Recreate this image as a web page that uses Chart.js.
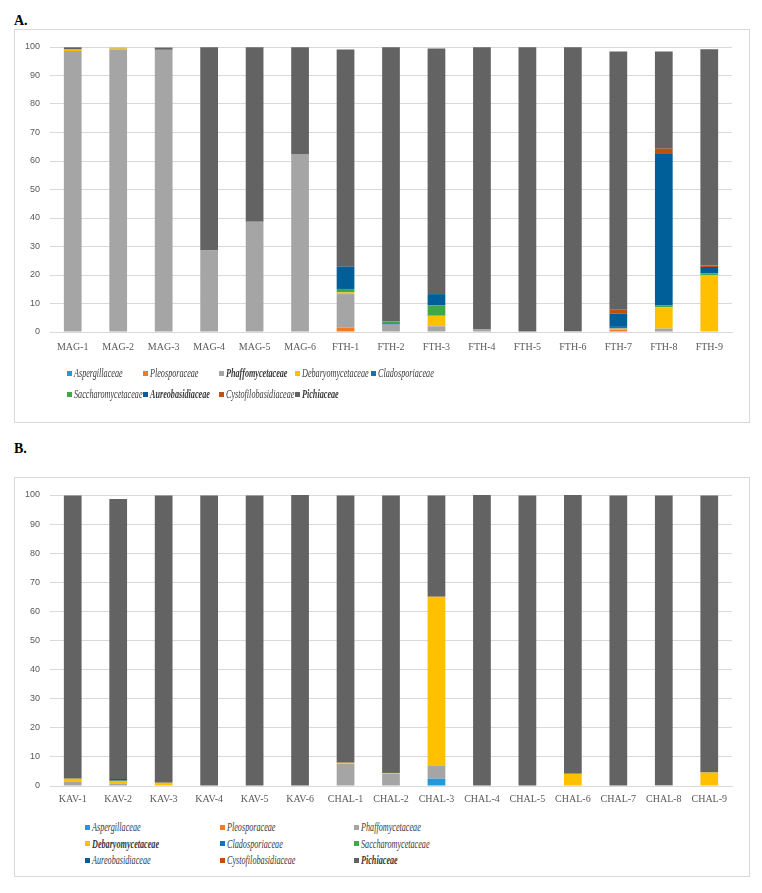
<!DOCTYPE html>
<html>
<head>
<meta charset="utf-8">
<script src="https://cdn.jsdelivr.net/npm/chart.js@4"></script>
<style>
  body { margin: 0; background: #fff; width: 762px; height: 893px; position: relative; overflow: hidden; }
  .tag { position: absolute; left: 14px; font: bold 14px "Liberation Serif", serif; color: #000; }
  .panel { position: absolute; left: 14px; width: 736px; box-sizing: border-box; border: 1px solid #d9d9d9; background: #fff; }
  .plot { position: absolute; left: 0; top: 0; width: 734px; }
  .legend { position: absolute; display: flex; flex-wrap: wrap; font: italic 12px "Liberation Serif", serif; color: #3a3a3a; }
  .legend span.item { display: flex; align-items: center; white-space: nowrap; overflow: visible; }
  .legend i.box { display: inline-block; width: 5px; height: 5px; margin-right: 2px; flex: none; }
  .legend span.name { display: inline-block; transform: scaleX(0.68); transform-origin: left center; }
</style>
</head>
<body>
<div class="tag" style="top:13px">A.</div>
<div class="panel" id="pA" style="top:29px;height:394px">
  <div class="plot" style="height:335px"><canvas id="chartA"></canvas></div>
  <div class="legend" id="legA" style="left:52px;top:333px;width:380px;line-height:21px"></div>
</div>
<div class="tag" style="top:441px">B.</div>
<div class="panel" id="pB" style="top:477px;height:400px">
  <div class="plot" style="height:340px"><canvas id="chartB"></canvas></div>
  <div class="legend" id="legB" style="left:70px;top:341px;width:405px;line-height:16.5px"></div>
</div>
<script>
// families, bottom of the stack first
const families = ["Aspergillaceae", "Pleosporaceae", "Phaffomycetaceae", "Debaryomycetaceae", "Cladosporiaceae",
  "Saccharomycetaceae", "Aureobasidiaceae", "Cystofilobasidiaceae", "Pichiaceae"];
const colors = ["#1f9bdc", "#f47b20", "#a5a5a5", "#ffc000", "#1b6cc8", "#3faa45", "#005f99", "#c0500f", "#636363"];

// --- panel A ---
const samplesA = ["MAG-1", "MAG-2", "MAG-3", "MAG-4", "MAG-5", "MAG-6",
  "FTH-1", "FTH-2", "FTH-3", "FTH-4", "FTH-5", "FTH-6", "FTH-7", "FTH-8", "FTH-9"];
const aspergA = [0, 0, 0, 0, 0, 0, 0, 0, 0, 0, 0, 0, 0.3, 0, 0];
const pleoA = [0, 0, 0, 0, 0, 0, 1.6, 0, 0, 0, 0, 0, 0.4, 0, 0];
const phaffA = [98.6, 99.1, 99.0, 28.6, 38.7, 62.5, 11.7, 2.6, 2.0, 0.9, 0, 0.3, 0, 1.2, 0];
const debaryA = [0.5, 0.4, 0, 0, 0, 0, 0.6, 0, 3.7, 0, 0, 0, 0.5, 7.5, 19.9];
const cladoA = [0, 0, 0, 0, 0, 0, 0, 0.5, 0.2, 0, 0, 0, 0.6, 0, 0];
const sacchA = [0, 0, 0, 0, 0, 0, 1.2, 0.6, 3.4, 0, 0, 0, 0, 0.7, 0.7];
const aureoA = [0, 0, 0, 0, 0, 0, 7.8, 0, 4.0, 0, 0, 0, 4.7, 53.3, 2.2];
const cystoA = [0, 0, 0, 0, 0, 0, 0, 0, 0, 0, 0, 0, 1.3, 1.6, 0.6];
const pichiaA = [0.8, 0.2, 0.8, 71.3, 61.2, 37.4, 76.2, 96.2, 86.2, 99.0, 99.9, 99.6, 90.6, 34.1, 75.8];

// --- panel B ---
const samplesB = ["KAV-1", "KAV-2", "KAV-3", "KAV-4", "KAV-5", "KAV-6",
  "CHAL-1", "CHAL-2", "CHAL-3", "CHAL-4", "CHAL-5", "CHAL-6", "CHAL-7", "CHAL-8", "CHAL-9"];
const aspergB = [0, 0, 0, 0, 0, 0, 0, 0, 2.5, 0, 0, 0, 0, 0, 0];
const pleoB = [0, 0, 0, 0, 0, 0, 0, 0, 0, 0, 0, 0, 0, 0, 0];
const phaffB = [1.4, 0.7, 0, 0, 0, 0, 7.7, 4.2, 4.6, 0, 0, 0, 0, 0.3, 0];
const debaryB = [1.1, 1.1, 1.1, 0, 0, 0, 0.3, 0.3, 57.9, 0, 0, 4.2, 0, 0, 4.6];
const cladoB = [0, 0, 0, 0, 0, 0, 0, 0, 0, 0, 0, 0, 0, 0, 0];
const sacchB = [0, 0, 0, 0, 0, 0, 0, 0, 0, 0, 0, 0, 0, 0, 0];
const aureoB = [0, 0.6, 0, 0, 0, 0, 0, 0, 0, 0, 0, 0, 0, 0, 0];
const cystoB = [0, 0, 0, 0, 0, 0, 0, 0, 0, 0, 0, 0, 0, 0, 0];
const pichiaB = [97.3, 96.2, 98.7, 99.8, 99.8, 100, 91.8, 95.3, 34.8, 100, 99.8, 95.8, 99.8, 99.5, 95.2];

const yTicks = [0, 10, 20, 30, 40, 50, 60, 70, 80, 90, 100];

// legend text styles (which names are set bold in each panel)
const boldA = ["Phaffomycetaceae", "Aureobasidiaceae", "Pichiaceae"];
const boldB = ["Debaryomycetaceae", "Pichiaceae"];

function makeChart(id, labels, series, xPad, xHeight) {
  new Chart(document.getElementById(id), {
    type: "bar",
    data: {
      labels: labels,
      datasets: series.map((d, i) => ({
        label: families[i],
        data: d,
        backgroundColor: colors[i],
        borderWidth: 0,
        barPercentage: 0.39,
        categoryPercentage: 1
      }))
    },
    options: {
      responsive: true,
      maintainAspectRatio: false,
      animation: false,
      layout: { padding: { top: 17, right: 17, left: 0, bottom: 0 } },
      plugins: { legend: { display: false }, tooltip: { enabled: false } },
      scales: {
        x: {
          stacked: true,
          grid: { display: false, drawTicks: false },
          border: { color: "#d9d9d9" },
          ticks: { padding: xPad, maxRotation: 0, autoSkip: false, color: "#595959",
            font: { family: "Liberation Serif", size: 10 } },
          afterFit: s => { s.height = xHeight; }
        },
        y: {
          stacked: true,
          min: 0,
          max: 100,
          grid: { color: "#d9d9d9", drawTicks: false },
          border: { display: false },
          afterBuildTicks: s => { s.ticks = yTicks.map(v => ({ value: v })); },
          ticks: { padding: 10, color: "#595959", font: { family: "Liberation Sans", size: 9 } },
          afterFit: s => { s.width = 35; }
        }
      }
    }
  });
}

function makeLegend(id, bold, itemWidth) {
  const el = document.getElementById(id);
  families.forEach((name, i) => {
    const item = document.createElement("span");
    item.className = "item";
    item.style.width = itemWidth + "px";
    const box = document.createElement("i");
    box.className = "box";
    box.style.background = colors[i];
    const txt = document.createElement("span");
    txt.className = "name";
    txt.textContent = name;
    if (bold.includes(name)) txt.style.fontWeight = "bold";
    item.appendChild(box);
    item.appendChild(txt);
    el.appendChild(item);
  });
}

makeChart("chartA", samplesA, [aspergA, pleoA, phaffA, debaryA, cladoA, sacchA, aureoA, cystoA, pichiaA], 9, 33);
makeChart("chartB", samplesB, [aspergB, pleoB, phaffB, debaryB, cladoB, sacchB, aureoB, cystoB, pichiaB], 7, 32);
makeLegend("legA", boldA, 76);
makeLegend("legB", boldB, 134.5);
</script>
</body>
</html>
